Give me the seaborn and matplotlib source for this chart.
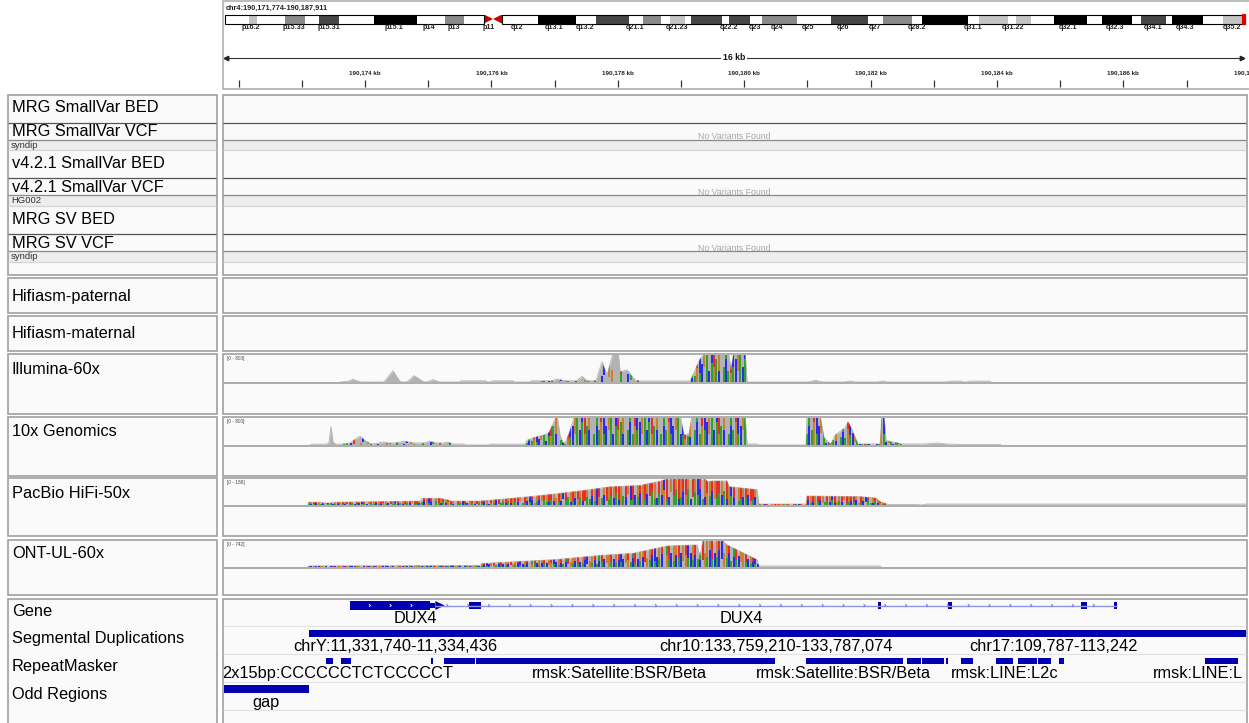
import numpy as np
import matplotlib
matplotlib.use("Agg")
import matplotlib.pyplot as plt
import seaborn as sns
from matplotlib.collections import LineCollection
from matplotlib.patches import Rectangle, Polygon

# ---------------------------------------------------------------- data
REGION_LABEL = "chr4:190,171,774-190,187,911"
VIEW_START_KB = 190171.774
VIEW_END_KB = 190187.911
RULER_LABEL = "16 kb"
ruler_ticks_kb = list(range(190172, 190188))
ruler_labels_kb = [190174, 190176, 190178, 190180, 190182, 190184, 190186, 190188]

# chr4 ideogram (Mb)
CHROM_LEN_MB = 190.2
band_edges_mb = [0, 4.48, 5.97, 11.19, 14.92, 17.53, 21.26, 27.78, 35.80, 41.02, 44.57, 48.30,
                 49.97, 51.65, 58.37, 65.45, 69.18, 75.33, 77.94, 81.30, 82.98, 85.78, 86.90,
                 92.68, 93.98, 97.90, 100.14, 106.66, 113.00, 119.90, 122.70, 128.10, 129.97,
                 138.55, 140.60, 146.01, 147.50, 150.30, 154.58, 160.74, 163.53, 169.13, 170.81,
                 175.47, 176.59, 182.37, 186.10, 190.20]
band_stains = ["gneg", "gpos25", "gneg", "gpos50", "gneg", "gpos75", "gneg", "gpos100", "gneg",
               "gpos50", "gneg", "acen", "acen", "gneg", "gpos100", "gneg", "gpos75", "gneg",
               "gpos50", "gneg", "gpos25", "gneg", "gpos75", "gneg", "gpos75", "gneg", "gpos50",
               "gneg", "gpos75", "gneg", "gpos50", "gneg", "gpos100", "gneg", "gpos25", "gneg",
               "gpos25", "gneg", "gpos100", "gneg", "gpos100", "gneg", "gpos75", "gneg",
               "gpos100", "gneg", "gpos25"]
band_label_names = ["p16.2", "p15.33", "p15.31", "p15.1", "p14", "p13", "p11", "q12", "q13.1",
                    "q13.2", "q21.1", "q21.23", "q22.2", "q23", "q24", "q25", "q26", "q27",
                    "q28.2", "q31.1", "q31.22", "q32.1", "q32.3", "q34.1", "q34.3", "q35.2"]
band_label_mb = [4.85, 12.87, 19.39, 31.51, 38.04, 42.70, 49.23, 54.45, 61.35, 67.13, 76.45,
                 84.28, 93.98, 98.83, 102.93, 108.71, 115.24, 121.21, 129.04, 139.48, 146.94,
                 157.20, 165.96, 173.04, 179.01, 187.78]
current_locus_mb = 190.17

# track names
variant_labels = ["MRG SmallVar BED", "MRG SmallVar VCF", "v4.2.1 SmallVar BED",
                  "v4.2.1 SmallVar VCF", "MRG SV BED", "MRG SV VCF"]
sample_labels = ["syndip", "HG002", "syndip"]
empty_vcf_text = "No Variants Found"
assembly_labels = ["Hifiasm-paternal", "Hifiasm-maternal"]
coverage_labels = ["Illumina-60x", "10x Genomics", "PacBio HiFi-50x", "ONT-UL-60x"]
coverage_ranges = [800, 800, 186, 742]
annotation_labels = ["Gene", "Segmental Duplications", "RepeatMasker", "Odd Regions"]

# coverage profiles: position (kb from view start), depth
illumina_pos = [1.831, 1.941, 2.036, 2.131, 2.179, 2.527, 2.669, 2.780, 2.812, 2.891, 3.002, 3.160,
                3.207, 3.302, 3.413, 3.729, 3.745, 4.141, 4.157, 4.220, 4.236, 4.568, 4.584, 4.837,
                4.853, 5.185, 5.264, 5.391, 5.581, 5.660, 5.739, 5.881, 5.976, 6.055, 6.166, 6.229,
                6.261, 6.372, 6.498, 6.578, 7.369, 7.527, 7.653, 7.970, 8.017, 8.065, 8.239, 8.271,
                9.236, 9.347, 9.472, 9.821, 9.900, 9.979, 10.343, 10.422, 10.485, 11.403, 11.482,
                11.672, 11.688, 11.752, 11.799, 12.116, 12.131]
illumina_cov = [0, 15, 80, 15, 0, 0, 335, 15, 0, 0, 187, 0,
                0, 70, 0, 0, 35, 35, 0, 0, 35, 35, 0, 0,
                35, 35, 90, 35, 35, 170, 35, 40, 600, 210, 950, 950,
                300, 360, 60, 30, 30, 680, 950, 950, 350, 950, 950, 0,
                0, 50, 0, 0, 30, 0, 0, 30, 0, 0, 25,
                25, 0, 0, 25, 25, 0]
illumina_mm = [(4.99, 6.58, "sparse"), (7.37, 8.27, "mixed")]

tenx_pos = [1.356, 1.388, 1.625, 1.656, 1.688, 1.720, 1.767, 1.831, 1.862, 1.989, 2.068, 2.147,
            2.242, 2.337, 2.448, 2.527, 2.606, 2.701, 2.859, 3.018, 3.160, 3.255, 3.366, 3.476,
            3.539, 3.603, 3.793, 3.809, 4.188, 4.204, 4.758, 4.790, 4.916, 5.074, 5.138, 5.185,
            5.264, 5.312, 5.359, 5.407, 5.470, 5.549, 7.210, 7.274, 7.353, 7.400, 8.239, 8.271,
            8.429, 8.445, 9.204, 9.220, 9.425, 9.488, 9.552, 9.599, 9.663, 9.742, 9.821, 9.869,
            9.932, 9.995, 10.027, 10.375, 10.406, 10.438, 10.470, 10.565, 10.660, 10.723,
            11.087, 11.277, 11.435, 11.641, 12.274, 12.290]
tenx_cov = [0, 25, 25, 80, 540, 80, 25, 25, 30, 60, 170, 260,
            110, 30, 60, 90, 60, 60, 110, 60, 60, 110, 60, 60,
            90, 30, 25, 0, 0, 25, 25, 140, 230, 310, 370, 570,
            900, 290, 60, 110, 430, 900, 900, 290, 340, 900, 900, 30,
            30, 0, 0, 900, 900, 230, 90, 30, 290, 400, 510, 690,
            460, 170, 30, 30, 900, 900, 140, 90, 60, 30,
            30, 60, 30, 15, 15, 0]
tenx_mm = [(1.86, 3.60, "sparse"), (4.79, 8.27, "mixed"), (9.22, 10.72, "mixed")]

pacbio_pos = [1.324, 1.340, 1.514, 1.593, 1.672, 1.736, 2.464, 3.097, 3.128, 3.413, 3.555, 3.587,
              4.030, 4.362, 4.837, 5.312, 5.786, 6.103, 6.578, 6.894, 7.005, 7.606, 7.653, 7.717,
              7.954, 7.986, 8.429, 8.460, 9.204, 9.220, 10.058, 10.312, 10.375, 10.485, 10.533,
              10.960, 11.040, 11.119, 16.166]
pacbio_cov = [0, 20, 20, 14, 14, 20, 24, 28, 48, 48, 34, 28,
              28, 40, 60, 83, 110, 130, 140, 170, 186, 186, 165, 172,
              172, 131, 110, 7, 7, 64, 60, 50, 24, 7, 3,
              3, 0, 7, 7]
pacbio_mm = [(1.34, 10.49, "dense")]

ont_pos = [1.324, 1.340, 4.046, 4.078, 5.232, 5.945, 6.467, 7.005, 7.479, 7.527, 7.574, 7.891,
           7.954, 8.429, 8.460, 10.375, 10.391]
ont_cov = [0, 30, 40, 100, 210, 330, 390, 600, 630, 300, 742, 742,
           630, 210, 28, 28, 0]
ont_mm = [(1.34, 8.46, "ont")]

# annotation features (kb from view start)
gene_cds = [(1.994, 3.259)]
gene_utr = [(3.259, 3.339)]
gene_arrow_tip = 3.487
gene_exons = [(3.872, 4.062), (10.343, 10.391), (11.451, 11.514), (13.555, 13.650), (14.077, 14.125)]
gene_span = (3.339, 14.125)
gene_names = ["DUX4", "DUX4"]
gene_name_pos = [3.018, 8.176]

segdup_blocks = [(1.340, 16.4)]
segdup_names = ["chrY:11,331,740-11,334,436", "chr10:133,759,210-133,787,074", "chr17:109,787-113,242"]
segdup_name_pos = [2.701, 8.728, 13.128]

repeat_blocks = [(1.609, 1.720), (1.847, 2.005), (3.271, 3.302), (3.476, 3.967), (3.983, 8.714),
                 (9.204, 10.739), (10.802, 11.024), (11.040, 11.388), (11.419, 11.451),
                 (11.656, 11.846), (12.210, 12.479), (12.558, 12.859), (12.875, 13.081),
                 (13.207, 13.286), (15.517, 16.040)]
repeat_names = ["rmsk:Satellite:BSR/Beta", "rmsk:Satellite:BSR/Beta", "rmsk:LINE:L2c"]
repeat_name_pos = [6.245, 9.790, 12.353]
repeat_left_name = ("2x15bp:CCCCCCTCTCCCCCT", -0.03)
repeat_right_name = ("rmsk:LINE:L", 14.694)

odd_blocks = [(-0.1, 1.340)]
odd_names = ["gap"]
odd_name_pos = [0.660]

# ---------------------------------------------------------------- style / layout
sns.set_theme(style="white")
plt.rcParams['font.family'] = ['Liberation Sans', 'DejaVu Sans']

W, H, DPI = 1249, 723, 100
fig = plt.figure(figsize=(W / DPI, H / DPI), dpi=DPI)
fig.patch.set_facecolor("white")

PX0 = 224.3
PXKB = 63.2
DATA_RIGHT = 1246
TRACK_XLIM = (VIEW_START_KB, VIEW_START_KB + (DATA_RIGHT - PX0) / PXKB)

BASE_COL = {"A": "#00a000", "C": "#0000ff", "G": "#d17105", "T": "#ff0000", "-": None}
COV_GRAY = "#b3b3b3"
FEAT = "#0000b2"
FS = 11.8


def add_px_axes(x0, y0, x1, y1, z=1):
    ax = fig.add_axes([x0 / W, 1 - y1 / H, (x1 - x0) / W, (y1 - y0) / H])
    ax.set_zorder(z)
    ax.set_axis_off()
    return ax


lay = add_px_axes(0, 0, W, H, z=0)
lay.set_xlim(0, W)
lay.set_ylim(H, 0)

NAME_X0, NAME_X1 = 8, 217
DATA_X0, DATA_X1 = 223, 1247


def box(x0, y0, x1, y1, fc="#fafafa", ec="#a0a0a0", lw=1.2):
    lay.add_patch(Rectangle((x0, y0), x1 - x0, y1 - y0, facecolor=fc, edgecolor=ec,
                            linewidth=lw, zorder=1))


panels = [(95, 275), (278, 313), (316, 351), (354, 414), (417, 476), (478, 536), (540, 595), (599, 735)]
for y0, y1 in panels:
    box(NAME_X0, y0, NAME_X1, y1)
    box(DATA_X0, y0, DATA_X1, y1)
box(DATA_X0, 1, W + 5, 89, fc="white", ec="#b0b0b0")

# variant group rows
for y0, y1 in [(140, 150), (195, 206), (251, 262)]:
    for x0, x1 in [(NAME_X0, NAME_X1), (DATA_X0, DATA_X1)]:
        lay.add_patch(Rectangle((x0 + 1, y0), x1 - x0 - 2, y1 - y0, facecolor="#ededed",
                                edgecolor="none", zorder=2))
for yl, col in [(123, "#555555"), (178, "#555555"), (234, "#555555"),
                (140, "#8a8a8a"), (195, "#8a8a8a"), (251, "#8a8a8a"),
                (150, "#d5d5d5"), (206, "#d5d5d5"), (262, "#d5d5d5")]:
    for x0, x1 in [(NAME_X0, NAME_X1), (DATA_X0, DATA_X1)]:
        lay.hlines(yl, x0 + 0.5, x1 - 0.5, color=col, linewidth=0.9, zorder=3)

for lbl, yc in zip(variant_labels, [108, 132, 164, 188, 220, 244]):
    lay.text(12, yc, lbl, fontsize=FS, va="center", ha="left", color="black", zorder=5)
for lbl, yc in zip(sample_labels, [145, 200.5, 256.5]):
    lay.text(11, yc, lbl, fontsize=6.8, va="center", ha="left", color="#333333", zorder=5)
for yc in [136.5, 192.5, 248.5]:
    lay.text(734, yc, empty_vcf_text, fontsize=6.3, va="center", ha="center", color="#a8a8a8", zorder=5)

for lbl, yc in zip(assembly_labels, [296, 334]):
    lay.text(12, yc, lbl, fontsize=FS, va="center", ha="left", color="black", zorder=5)
for lbl, yc in zip(coverage_labels, [369, 431.5, 493, 554]):
    lay.text(12, yc, lbl, fontsize=FS, va="center", ha="left", color="black", zorder=5)
for lbl, yc in zip(annotation_labels, [611, 639, 667, 695]):
    lay.text(12, yc, lbl, fontsize=FS, va="center", ha="left", color="black", zorder=5)

# ---------------------------------------------------------------- coverage tracks
PATTERNS = {
    "sparse": ("--A--T---C-G----T-", "-A--C---G--", [0.5, 0.8, 0.3]),
    "mixed": ("-A-TC-GA-CT-G-", "ACAGAC-", [0.4, 0.7, 0.55, 0.85]),
    "dense": ("TGTTG-TGCT-GTG", "ACACGAC-A", [0.3, 0.5, 0.4, 0.6, 0.25]),
    "ont": ("T-GTC-GT-AT-GG", "ACAC-GAC", [0.3, 0.55, 0.4, 0.65]),
}


def draw_coverage(ax, pos_kb, cov, ymax, mm_regions, step_px=2.4, lw_px=1.5):
    x = VIEW_START_KB + np.asarray(pos_kb, dtype=float)
    y = np.asarray(cov, dtype=float)
    sns.lineplot(x=x, y=y, ax=ax, color=COV_GRAY, linewidth=0.6, estimator=None, sort=False)
    poly = ax.fill_between(x, 0, y, color=COV_GRAY, linewidth=0)
    clip = poly.get_paths()[0]
    step = step_px / PXKB
    lo_segs, lo_cols, hi_segs, hi_cols = [], [], [], []
    for a, b, key in mm_regions:
        top_pat, low_pat, split_pat = PATTERNS[key]
        xs = np.arange(VIEW_START_KB + a, VIEW_START_KB + b, step)
        local = np.minimum(np.interp(xs, x, y), ymax)
        for i, xi in enumerate(xs):
            s = split_pat[i % len(split_pat)] * local[i]
            lo = BASE_COL[low_pat[i % len(low_pat)]]
            hi = BASE_COL[top_pat[i % len(top_pat)]]
            if lo:
                lo_segs.append([(xi, 0), (xi, s)])
                lo_cols.append(lo)
            if hi:
                hi_segs.append([(xi, s), (xi, ymax * 1.5)])
                hi_cols.append(hi)
    lw = lw_px * 72 / DPI
    for segs, cols in [(lo_segs, lo_cols), (hi_segs, hi_cols)]:
        if segs:
            lc = LineCollection(segs, colors=cols, linewidths=lw, capstyle="butt")
            ax.add_collection(lc)
            lc.set_clip_path(clip, ax.transData)
    ax.set_xlim(*TRACK_XLIM)
    ax.set_ylim(0, ymax)
    ax.set_axis_off()


cov_layout = [(355, 382), (418, 445), (479, 505), (541, 567)]
cov_data = [(illumina_pos, illumina_cov, illumina_mm), (tenx_pos, tenx_cov, tenx_mm),
            (pacbio_pos, pacbio_cov, pacbio_mm), (ont_pos, ont_cov, ont_mm)]
for (top, base), (p, c, mm), rng in zip(cov_layout, cov_data, coverage_ranges):
    lay.hlines(base + 0.6, DATA_X0 + 0.5, DATA_X1 - 0.5, color="#a5a5a5", linewidth=1.3, zorder=3)
    ax = add_px_axes(PX0, top, DATA_RIGHT, base, z=1)
    draw_coverage(ax, p, c, rng, mm)
    lay.text(227, top + 3.5, f"[0 - {rng}]", fontsize=3.4, va="center", ha="left", color="#444444", zorder=5)

# ---------------------------------------------------------------- annotation tracks
for yl in [626, 654, 682, 710]:
    lay.hlines(yl, DATA_X0 + 0.5, DATA_X1 - 0.5, color="#e2e2e2", linewidth=0.8, zorder=3)

fa = add_px_axes(PX0, 599, DATA_RIGHT, 723, z=1)
fa.set_xlim(*TRACK_XLIM)
fa.set_ylim(124, 0)
V = VIEW_START_KB

# gene
fa.hlines(6.5, V + gene_span[0], V + gene_span[1], color="#9494e6", linewidth=1.0)
chev = []
for cx in np.arange(V + gene_span[0] + 0.2, V + gene_span[1] - 0.05, 0.33):
    chev.append([(cx - 0.025, 5.0), (cx, 6.5), (cx - 0.025, 8.0)])
fa.add_collection(LineCollection(chev, colors="#6a6ad6", linewidths=0.6))
for a, b in gene_cds:
    fa.add_patch(Rectangle((V + a, 2), b - a, 9, facecolor=FEAT, edgecolor="none"))
    wchev = []
    for cx in np.arange(V + a + 0.32, V + b - 0.15, 0.33):
        wchev.append([(cx - 0.025, 5.2), (cx, 6.5), (cx - 0.025, 7.8)])
    fa.add_collection(LineCollection(wchev, colors="white", linewidths=0.6, zorder=4))
for a, b in gene_utr:
    fa.add_patch(Rectangle((V + a, 4), b - a, 5, facecolor=FEAT, edgecolor="none"))
    fa.add_patch(Polygon([(V + b, 2), (V + b, 11), (V + gene_arrow_tip, 6.5)], closed=True,
                         facecolor=FEAT, edgecolor="none"))
for a, b in gene_exons:
    fa.add_patch(Rectangle((V + a, 3), b - a, 7, facecolor=FEAT, edgecolor="none"))
for n, p in zip(gene_names, gene_name_pos):
    fa.text(V + p, 19.7, n, fontsize=FS, ha="center", va="center", color="black")

# segmental duplications
for a, b in segdup_blocks:
    fa.add_patch(Rectangle((V + a, 31), b - a, 7, facecolor=FEAT, edgecolor="none"))
for n, p in zip(segdup_names, segdup_name_pos):
    fa.text(V + p, 47.2, n, fontsize=FS, ha="center", va="center", color="black")

# repeat masker
for a, b in repeat_blocks:
    fa.add_patch(Rectangle((V + a, 58.6), b - a, 6.8, facecolor=FEAT, edgecolor="none"))
for n, p in zip(repeat_names, repeat_name_pos):
    fa.text(V + p, 74.7, n, fontsize=FS, ha="center", va="center", color="black")
fa.text(V + repeat_left_name[1], 74.7, repeat_left_name[0], fontsize=FS, ha="left", va="center",
        color="black", clip_on=False)
fa.text(V + repeat_right_name[1], 74.7, repeat_right_name[0], fontsize=FS, ha="left", va="center",
        color="black")

# odd regions
for a, b in odd_blocks:
    fa.add_patch(Rectangle((V + a, 86), b - a, 8, facecolor=FEAT, edgecolor="none"))
for n, p in zip(odd_names, odd_name_pos):
    fa.text(V + p, 103, n, fontsize=FS, ha="center", va="center", color="black")

# ---------------------------------------------------------------- header: locus, ideogram, ruler
lay.text(226, 8, REGION_LABEL, fontsize=5.3, fontweight="bold", ha="left", va="center",
         color="#222222", zorder=6)

ideo = add_px_axes(225, 14.5, 1245, 23.5, z=2)
ideo.set_xlim(0, CHROM_LEN_MB)
ideo.set_ylim(0, 1)
stain_col = {"gneg": "white", "gpos25": "#c4c4c4", "gpos50": "#8a8a8a", "gpos75": "#464646",
             "gpos100": "black"}
for a, b, s in zip(band_edges_mb[:-1], band_edges_mb[1:], band_stains):
    if s == "acen":
        continue
    ideo.add_patch(Rectangle((a, 0), b - a, 1, facecolor=stain_col[s], edgecolor="none"))
acen_idx = [i for i, s in enumerate(band_stains) if s == "acen"]
p_end = band_edges_mb[acen_idx[0]]
cen = band_edges_mb[acen_idx[0] + 1]
q_start = band_edges_mb[acen_idx[1] + 1]
ideo.add_patch(Polygon([(p_end, 0), (p_end, 1), (cen, 0.5)], closed=True, facecolor="#c80000",
                       edgecolor="none"))
ideo.add_patch(Polygon([(q_start, 0), (q_start, 1), (cen, 0.5)], closed=True, facecolor="#c80000",
                       edgecolor="none"))
ideo.add_patch(Rectangle((0, 0), p_end, 1, facecolor="none", edgecolor="black", linewidth=0.8,
                         clip_on=False))
ideo.add_patch(Rectangle((q_start, 0), CHROM_LEN_MB - q_start, 1, facecolor="none",
                         edgecolor="black", linewidth=0.8, clip_on=False))
ideo.add_patch(Rectangle((current_locus_mb - 0.55, -0.05), 0.6, 1.1, facecolor="#e00000",
                         edgecolor="#e00000", linewidth=0.8, clip_on=False))
for n, p in zip(band_label_names, band_label_mb):
    ideo.text(p, -0.42, n, fontsize=5.2, fontweight="bold", ha="center", va="center",
              color="#222222", clip_on=False)

hdr = add_px_axes(PX0, 0, W, 90, z=2)
hdr.set_xlim(VIEW_START_KB, VIEW_START_KB + (W - PX0) / PXKB)
hdr.set_ylim(90, 0)
hdr.hlines(58, VIEW_START_KB, VIEW_END_KB, color="#333333", linewidth=0.8)
hdr.plot([VIEW_START_KB + 0.03], [58], marker="<", color="#222222", markersize=3.2)
hdr.plot([VIEW_END_KB - 0.03], [58], marker=">", color="#222222", markersize=3.2)
hdr.text((VIEW_START_KB + VIEW_END_KB) / 2, 58, RULER_LABEL, fontsize=6.2, fontweight="bold",
         ha="center", va="center", color="#111111",
         bbox=dict(facecolor="white", edgecolor="none", pad=1.2))
hdr.vlines(ruler_ticks_kb, 80, 87, color="#333333", linewidth=0.9)
for k in ruler_labels_kb:
    hdr.text(k, 73, f"{k:,} kb", fontsize=4.5, fontweight="bold", ha="center", va="center",
             color="#222222", clip_on=False)

fig.savefig("out.png", dpi=DPI, facecolor="white")
